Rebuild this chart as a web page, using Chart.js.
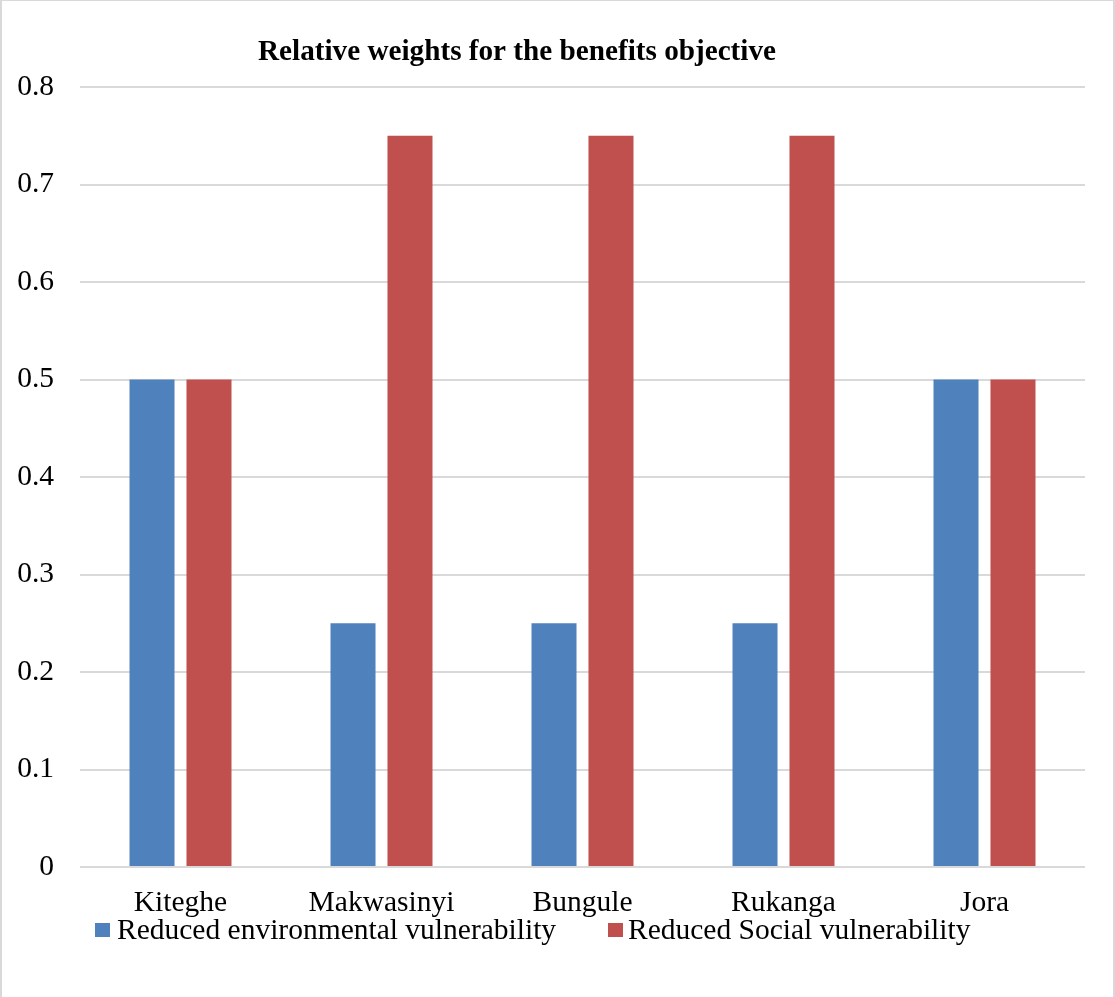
<!DOCTYPE html>
<html>
<head>
<meta charset="utf-8">
<script src="https://cdn.jsdelivr.net/npm/chart.js@4/dist/chart.umd.min.js"></script>
<style>
  html, body { margin: 0; padding: 0; background: #fff; }
  #wrap { position: relative; width: 1115px; height: 997px; }
  #wrap canvas { position: absolute; left: 0; top: 0; }
  #frame {
    position: absolute; left: 0; top: 0; width: 1115px; height: 997px;
    box-sizing: border-box; pointer-events: none;
    border-left: 2px solid #d9d9d9; border-right: 2px solid #d9d9d9; border-top: 1px solid #d9d9d9;
  }
</style>
</head>
<body>
<div id="wrap">
  <canvas id="chart" width="1115" height="997"></canvas>
  <div id="frame"></div>
</div>
<script>
// Villages and their relative weights for the two benefit criteria
const villages = ['Kiteghe', 'Makwasinyi', 'Bungule', 'Rukanga', 'Jora'];
const environmentalWeights = [0.5, 0.25, 0.25, 0.25, 0.5];
const socialWeights = [0.5, 0.75, 0.75, 0.75, 0.5];
const seriesNames = ['Reduced environmental vulnerability', 'Reduced Social vulnerability'];
const seriesColors = ['#4F81BD', '#C0504D'];
const yTicks = [0, 0.1, 0.2, 0.3, 0.4, 0.5, 0.6, 0.7, 0.8];
const chartTitle = 'Relative weights for the benefits objective';

const FONT = "'Liberation Serif', 'Times New Roman', serif";

// Title and legend drawn at fixed spots on the canvas
const titleAndLegend = {
  id: 'titleAndLegend',
  afterDraw(chart) {
    const ctx = chart.ctx;
    ctx.save();
    ctx.fillStyle = '#000';
    ctx.font = 'bold 29.2px ' + FONT;
    ctx.textAlign = 'center';
    ctx.textBaseline = 'alphabetic';
    ctx.fillText(chartTitle, 517, 60);

    ctx.font = '29.5px ' + FONT;
    ctx.textAlign = 'left';
    const items = [{ box: 95, text: 117 }, { box: 608, text: 628 }];
    chart.data.datasets.forEach((ds, i) => {
      ctx.fillStyle = ds.backgroundColor;
      ctx.fillRect(items[i].box, 923, 15, 14);
      ctx.fillStyle = '#000';
      ctx.fillText(ds.label, items[i].text, 939);
    });
    ctx.restore();
  }
};

new Chart(document.getElementById('chart'), {
  type: 'bar',
  data: {
    labels: villages,
    datasets: [
      { label: seriesNames[0], data: environmentalWeights, backgroundColor: seriesColors[0],
        categoryPercentage: 0.567, barPercentage: 0.79 },
      { label: seriesNames[1], data: socialWeights, backgroundColor: seriesColors[1],
        categoryPercentage: 0.567, barPercentage: 0.79 }
    ]
  },
  options: {
    responsive: false,
    animation: false,
    layout: { padding: { top: 87, right: 30, bottom: 0, left: 0 } },
    plugins: {
      legend: { display: false },
      title: { display: false },
      tooltip: { enabled: false }
    },
    scales: {
      x: {
        grid: { display: false },
        border: { display: false },
        ticks: { color: '#000', font: { family: FONT, size: 29.5 }, padding: 11, maxRotation: 0 },
        afterFit(scale) { scale.height = 130; }
      },
      y: {
        min: yTicks[0],
        max: yTicks[yTicks.length - 1],
        afterBuildTicks(scale) { scale.ticks = yTicks.map(v => ({ value: v })); },
        grid: { color: '#D9D9D9', lineWidth: 2, drawTicks: false, tickLength: 0 },
        border: { display: false },
        ticks: { color: '#000', font: { family: FONT, size: 29.5 }, padding: 26,
                 callback: v => String(v) },
        afterFit(scale) { scale.width = 80; }
      }
    }
  },
  plugins: [titleAndLegend]
});
</script>
</body>
</html>
